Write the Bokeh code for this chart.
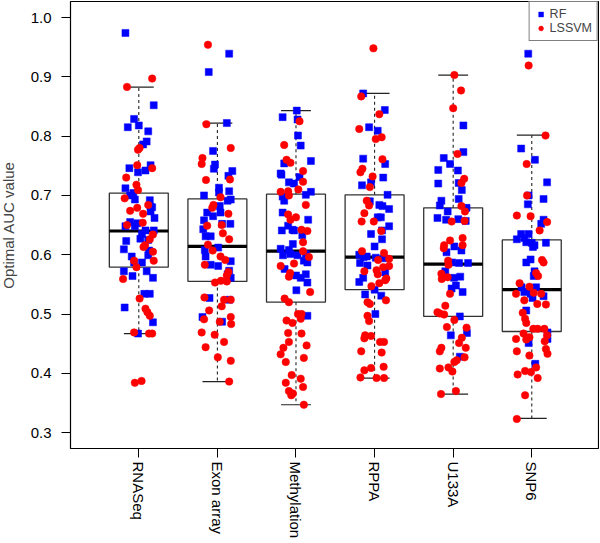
from bokeh.plotting import figure
from bokeh.models import Range1d, FixedTicker, Legend, LegendItem
from bokeh.embed import file_html
from bokeh.resources import INLINE

categories = ["RNASeq", "Exon array", "Methylation", "RPPA", "U133A", "SNP6"]
y_ticks = [0.3, 0.4, 0.5, 0.6, 0.7, 0.8, 0.9, 1.0]

# box statistics
box_q3 = [0.704, 0.694, 0.702, 0.701, 0.679, 0.625]
box_med = [0.640, 0.614, 0.606, 0.596, 0.584, 0.541]
box_q1 = [0.579, 0.555, 0.520, 0.541, 0.496, 0.4705]
whisk_hi = [0.8825, 0.822, 0.843, 0.872, 0.903, 0.8015]
whisk_lo = [0.467, 0.386, 0.347, 0.392, 0.365, 0.324]

# RF values (blue squares) per category
rf_rnaseq = [0.974, 0.852, 0.829, 0.815, 0.818, 0.808, 0.791, 0.786, 0.746, 0.751, 0.739, 0.742, 0.712, 0.704, 0.700, 0.693, 0.692, 0.681, 0.680, 0.673, 0.662, 0.655, 0.653, 0.648, 0.648, 0.641, 0.635, 0.641, 0.627, 0.623, 0.625, 0.609, 0.607, 0.599, 0.597, 0.587, 0.587, 0.572, 0.564, 0.572, 0.561, 0.534, 0.534, 0.511, 0.486, 0.467]
rf_exon = [0.939, 0.908, 0.822, 0.775, 0.752, 0.745, 0.741, 0.733, 0.713, 0.705, 0.700, 0.707, 0.693, 0.691, 0.682, 0.671, 0.665, 0.671, 0.658, 0.652, 0.652, 0.643, 0.631, 0.631, 0.612, 0.608, 0.597, 0.583, 0.581, 0.589, 0.573, 0.561, 0.567, 0.527, 0.524, 0.495, 0.487]
rf_meth = [0.843, 0.832, 0.828, 0.801, 0.784, 0.758, 0.754, 0.737, 0.735, 0.722, 0.720, 0.731, 0.698, 0.691, 0.701, 0.706, 0.659, 0.671, 0.649, 0.641, 0.642, 0.641, 0.633, 0.618, 0.610, 0.608, 0.599, 0.601, 0.599, 0.601, 0.590, 0.587, 0.576, 0.565, 0.561, 0.567, 0.553, 0.540, 0.497]
rf_rppa = [0.872, 0.844, 0.815, 0.809, 0.762, 0.753, 0.730, 0.717, 0.722, 0.701, 0.690, 0.684, 0.682, 0.677, 0.663, 0.663, 0.648, 0.641, 0.635, 0.626, 0.614, 0.600, 0.596, 0.597, 0.595, 0.594, 0.586, 0.582, 0.570, 0.561, 0.554, 0.541, 0.533, 0.531, 0.500]
rf_u133a = [0.818, 0.773, 0.763, 0.753, 0.743, 0.742, 0.720, 0.721, 0.709, 0.694, 0.691, 0.683, 0.673, 0.679, 0.662, 0.659, 0.660, 0.657, 0.614, 0.607, 0.604, 0.587, 0.586, 0.586, 0.572, 0.561, 0.563, 0.548, 0.543, 0.537, 0.496, 0.464, 0.468, 0.428]
rf_snp6 = [0.939, 0.779, 0.760, 0.722, 0.700, 0.694, 0.685, 0.659, 0.652, 0.626, 0.635, 0.628, 0.635, 0.621, 0.620, 0.616, 0.613, 0.620, 0.592, 0.587, 0.564, 0.572, 0.545, 0.537, 0.545, 0.534, 0.527, 0.530, 0.506, 0.451, 0.469, 0.458, 0.416]

# LSSVM values (red circles) per category
ls_rnaseq = [0.897, 0.883, 0.777, 0.780, 0.751, 0.746, 0.730, 0.718, 0.695, 0.709, 0.674, 0.679, 0.684, 0.669, 0.650, 0.654, 0.634, 0.626, 0.616, 0.613, 0.605, 0.590, 0.590, 0.579, 0.559, 0.526, 0.509, 0.503, 0.497, 0.469, 0.467, 0.467, 0.384, 0.387]
ls_exon = [0.954, 0.820, 0.780, 0.763, 0.753, 0.726, 0.727, 0.697, 0.679, 0.684, 0.669, 0.650, 0.649, 0.636, 0.626, 0.617, 0.607, 0.597, 0.591, 0.583, 0.571, 0.565, 0.555, 0.556, 0.553, 0.528, 0.524, 0.524, 0.513, 0.506, 0.491, 0.495, 0.487, 0.483, 0.469, 0.465, 0.453, 0.444, 0.427, 0.421, 0.386]
ls_meth = [0.825, 0.785, 0.760, 0.755, 0.741, 0.723, 0.710, 0.706, 0.707, 0.700, 0.684, 0.668, 0.663, 0.659, 0.642, 0.640, 0.621, 0.606, 0.596, 0.581, 0.585, 0.569, 0.563, 0.537, 0.526, 0.520, 0.500, 0.500, 0.489, 0.485, 0.492, 0.468, 0.467, 0.453, 0.447, 0.443, 0.432, 0.426, 0.419, 0.397, 0.391, 0.384, 0.377, 0.370, 0.366, 0.363, 0.347]
ls_rppa = [0.948, 0.867, 0.837, 0.812, 0.798, 0.795, 0.761, 0.745, 0.739, 0.732, 0.714, 0.691, 0.683, 0.670, 0.656, 0.656, 0.640, 0.606, 0.603, 0.593, 0.591, 0.572, 0.574, 0.579, 0.581, 0.567, 0.560, 0.557, 0.552, 0.547, 0.523, 0.520, 0.517, 0.497, 0.488, 0.464, 0.459, 0.463, 0.453, 0.453, 0.437, 0.435, 0.405, 0.409, 0.411, 0.393, 0.392, 0.392]
ls_u133a = [0.903, 0.877, 0.847, 0.770, 0.728, 0.721, 0.682, 0.673, 0.657, 0.656, 0.624, 0.628, 0.616, 0.616, 0.611, 0.590, 0.583, 0.568, 0.562, 0.559, 0.534, 0.514, 0.503, 0.501, 0.499, 0.490, 0.478, 0.477, 0.460, 0.451, 0.443, 0.443, 0.437, 0.427, 0.422, 0.419, 0.408, 0.410, 0.403, 0.365, 0.370]
ls_snp6 = [0.919, 0.801, 0.753, 0.700, 0.666, 0.665, 0.655, 0.641, 0.591, 0.587, 0.569, 0.564, 0.552, 0.534, 0.546, 0.534, 0.536, 0.523, 0.517, 0.516, 0.502, 0.492, 0.485, 0.475, 0.475, 0.475, 0.467, 0.461, 0.464, 0.458, 0.457, 0.454, 0.441, 0.433, 0.437, 0.430, 0.398, 0.404, 0.402, 0.410, 0.392, 0.363, 0.323]

# horizontal jitter (category units) as seen in the picture
rf_jit_rnaseq = [-0.17, 0.19, -0.06, -0.14, 0.0, 0.12, 0.10, 0.055, -0.12, 0.15, -0.01, 0.085, -0.17, -0.07, -0.11, -0.05, 0.14, 0.15, 0.17, 0.15, 0.20, -0.11, -0.02, -0.17, -0.05, 0.085, 0.04, 0.19, 0.02, -0.16, 0.12, -0.19, 0.13, 0.12, -0.09, -0.06, 0.04, -0.19, -0.08, 0.10, 0.18, 0.07, 0.14, -0.18, 0.18, -0.01]
rf_jit_exon = [0.15, -0.11, 0.12, -0.055, -0.03, -0.045, 0.19, 0.14, 0.02, 0.02, -0.17, 0.15, 0.17, 0.13, 0.03, -0.13, -0.055, 0.04, -0.17, 0.06, 0.165, -0.18, -0.15, -0.085, 0.01, -0.16, -0.15, -0.085, 0.01, 0.17, 0.15, 0.17, 0.13, -0.10, 0.15, -0.19, 0.06]
rf_jit_meth = [0.01, -0.17, 0.02, 0.025, 0.06, 0.19, -0.15, -0.195, -0.185, -0.09, -0.025, 0.045, -0.17, -0.15, 0.125, 0.19, 0.155, -0.17, -0.10, -0.18, -0.045, -0.025, 0.08, -0.04, -0.195, -0.09, -0.165, -0.07, 0.02, 0.125, 0.1, 0.145, -0.145, 0.0, 0.06, 0.125, 0.145, 0.005, 0.145]
rf_jit_rppa = [-0.145, 0.13, -0.07, 0.04, -0.145, 0.135, 0.11, -0.16, -0.045, 0.165, -0.06, 0.06, 0.10, 0.185, 0.04, 0.08, 0.185, 0.095, -0.045, 0.095, 0.0, -0.195, -0.14, -0.1, 0.015, 0.12, -0.185, -0.09, 0.135, -0.145, -0.195, 0.0, -0.12, 0.085, 0.01]
rf_jit_u133a = [0.13, 0.13, -0.12, -0.04, -0.19, 0.06, -0.19, 0.07, 0.11, 0.07, -0.15, -0.17, -0.07, 0.17, -0.2, -0.09, 0.065, 0.16, 0.015, 0.105, -0.085, -0.015, 0.075, 0.19, -0.10, 0.01, 0.09, 0.035, -0.02, 0.12, 0.085, -0.03, 0.175, 0.085]
rf_jit_snp6 = [-0.045, -0.135, 0.04, 0.195, -0.04, 0.15, -0.05, 0.15, 0.12, -0.19, -0.135, -0.095, -0.04, -0.07, 0.0, 0.035, 0.015, 0.18, -0.015, -0.07, 0.025, 0.035, 0.055, -0.095, -0.13, -0.015, 0.01, 0.15, -0.07, -0.04, 0.2, 0.2, 0.045]

ls_jit_rnaseq = [0.17, -0.15, -0.01, 0.01, -0.02, 0.17, -0.16, -0.03, -0.18, -0.01, -0.11, -0.02, 0.12, 0.055, -0.15, 0.05, 0.18, 0.14, 0.08, 0.06, 0.18, 0.19, -0.06, -0.03, -0.2, 0.01, 0.085, 0.11, 0.14, -0.06, 0.13, 0.17, -0.05, 0.035]
ls_jit_exon = [-0.12, -0.14, 0.17, -0.19, -0.2, -0.145, 0.16, 0.04, -0.065, -0.05, 0.14, 0.055, -0.13, 0.07, 0.15, -0.12, -0.06, 0.04, 0.1, -0.16, 0.14, 0.12, 0.12, 0.045, -0.03, -0.165, 0.085, 0.17, 0.055, -0.105, -0.17, 0.17, 0.03, 0.175, -0.2, -0.035, 0.085, -0.15, 0.005, 0.17, 0.15]
ls_jit_meth = [0.045, -0.15, -0.12, -0.07, 0.09, 0.09, 0.03, -0.195, -0.10, -0.09, 0.125, -0.10, 0.0, -0.07, 0.07, 0.145, 0.09, 0.09, 0.165, -0.195, -0.025, -0.075, -0.09, 0.18, -0.145, -0.09, 0.025, 0.07, -0.12, -0.045, 0.06, -0.10, 0.07, -0.09, 0.135, -0.16, -0.195, 0.1, -0.13, -0.055, 0.06, -0.13, 0.09, -0.09, -0.04, -0.06, 0.1]
ls_jit_rppa = [-0.015, -0.17, 0.06, -0.195, 0.09, 0.015, 0.10, -0.155, -0.18, -0.025, -0.06, -0.10, -0.07, -0.13, -0.165, -0.01, 0.085, -0.16, 0.12, 0.185, 0.045, -0.13, 0.025, 0.11, 0.185, 0.04, 0.15, 0.135, 0.06, -0.04, 0.145, -0.09, -0.06, -0.09, -0.07, -0.12, -0.13, -0.045, 0.07, 0.12, -0.17, 0.09, -0.13, -0.045, 0.115, -0.18, 0.025, 0.12]
ls_jit_u133a = [0.015, 0.10, 0.0, 0.055, 0.14, 0.105, 0.105, 0.15, 0.145, -0.02, -0.04, 0.12, -0.115, 0.12, -0.12, -0.065, -0.06, -0.15, -0.07, -0.145, -0.04, -0.10, -0.2, -0.17, -0.115, 0.015, -0.08, 0.17, 0.11, 0.075, -0.15, 0.16, -0.17, 0.145, 0.045, 0.015, -0.17, -0.06, -0.01, -0.155, 0.035]
ls_jit_snp6 = [-0.04, 0.175, -0.065, -0.06, -0.19, -0.015, 0.195, 0.10, 0.13, 0.15, 0.055, 0.08, -0.155, -0.2, -0.03, 0.12, 0.025, -0.095, 0.07, 0.18, -0.115, -0.085, -0.07, 0.02, 0.075, 0.16, -0.105, -0.03, 0.195, -0.2, -0.07, 0.165, 0.18, 0.2, -0.19, -0.03, -0.18, -0.085, -0.01, 0.055, 0.075, -0.085, -0.19]

rf_all = [rf_rnaseq, rf_exon, rf_meth, rf_rppa, rf_u133a, rf_snp6]
ls_all = [ls_rnaseq, ls_exon, ls_meth, ls_rppa, ls_u133a, ls_snp6]
rf_jit = [rf_jit_rnaseq, rf_jit_exon, rf_jit_meth, rf_jit_rppa, rf_jit_u133a, rf_jit_snp6]
ls_jit = [ls_jit_rnaseq, ls_jit_exon, ls_jit_meth, ls_jit_rppa, ls_jit_u133a, ls_jit_snp6]

FONT = "Liberation Sans"
BOX_W = 0.75
CAP_W = 0.38
Y0, Y1 = 0.2732, 1.027

p = figure(width=607, height=543, output_backend="svg", toolbar_location=None,
           x_range=Range1d(0.131, 6.849), y_range=Range1d(Y0, Y1),
           min_border_left=78, min_border_right=1, min_border_top=1, min_border_bottom=95,
           margin=(0, 0, 0, -8))
p.grid.visible = False
p.outline_line_color = "black"
p.outline_line_width = 1.2
p.background_fill_color = "white"
p.border_fill_color = "white"

pos = list(range(1, len(categories) + 1))

# boxes
p.quad(left=[x - BOX_W / 2 for x in pos], right=[x + BOX_W / 2 for x in pos],
       top=box_q3, bottom=box_q1, fill_color=None, line_color="#333333", line_width=1.3)
# whiskers (dashed)
p.segment(x0=pos, x1=pos, y0=box_q3, y1=whisk_hi, line_color="#222222", line_width=1.1, line_dash="3 3")
p.segment(x0=pos, x1=pos, y0=box_q1, y1=whisk_lo, line_color="#222222", line_width=1.1, line_dash="3 3")
# caps
p.segment(x0=[x - CAP_W / 2 for x in pos], x1=[x + CAP_W / 2 for x in pos], y0=whisk_hi, y1=whisk_hi,
          line_color="#222222", line_width=1.2)
p.segment(x0=[x - CAP_W / 2 for x in pos], x1=[x + CAP_W / 2 for x in pos], y0=whisk_lo, y1=whisk_lo,
          line_color="#222222", line_width=1.2)
# medians
p.segment(x0=[x - BOX_W / 2 for x in pos], x1=[x + BOX_W / 2 for x in pos], y0=box_med, y1=box_med,
          line_color="black", line_width=3.2)

rf_x, rf_y, ls_x, ls_y = [], [], [], []
for i, x in enumerate(pos):
    for v, j in zip(rf_all[i], rf_jit[i]):
        rf_x.append(x + j)
        rf_y.append(v)
    for v, j in zip(ls_all[i], ls_jit[i]):
        ls_x.append(x + j)
        ls_y.append(v)

r_rf = p.scatter(rf_x, rf_y, marker="square", size=7, fill_color="#0000FF", line_color="#0000FF", line_width=0.5)
r_ls = p.scatter(ls_x, ls_y, marker="circle", size=7.5, fill_color="#FF0000", line_color="#FF0000", line_width=0.5)

legend = Legend(items=[LegendItem(label="RF", renderers=[r_rf]),
                       LegendItem(label="LSSVM", renderers=[r_ls])],
                location="top_right", margin=0, padding=5, spacing=0,
                glyph_width=12, glyph_height=14, label_height=14, label_standoff=3,
                label_text_font=FONT, label_text_font_size="12.5px",
                border_line_color="black", border_line_width=1.2,
                background_fill_color="white", background_fill_alpha=1.0)
p.add_layout(legend, "center")

# axes
xa = p.xaxis[0]
xa.ticker = FixedTicker(ticks=pos)
xa.major_label_overrides = {x: c for x, c in zip(pos, categories)}
xa.major_label_orientation = "vertical"
xa.major_label_standoff = 4
ya = p.yaxis[0]
ya.ticker = FixedTicker(ticks=y_ticks)
ya.major_label_overrides = {t: f"{t:.1f}" for t in y_ticks}
ya.major_label_standoff = 10
ya.axis_label = "Optimal AUC value"
ya.axis_label_text_font_style = "normal"
ya.axis_label_text_font = FONT
ya.axis_label_text_font_size = "15px"
ya.axis_label_standoff = 11
for ax in (xa, ya):
    ax.axis_line_color = None
    ax.major_tick_out = 9
    ax.major_tick_in = 0
    ax.minor_tick_line_color = None
    ax.major_tick_line_color = "black"
    ax.major_label_text_font = FONT
    ax.major_label_text_font_size = "15px"
    ax.major_label_text_color = "black"

open("out.html", "w").write(file_html(p, INLINE))
